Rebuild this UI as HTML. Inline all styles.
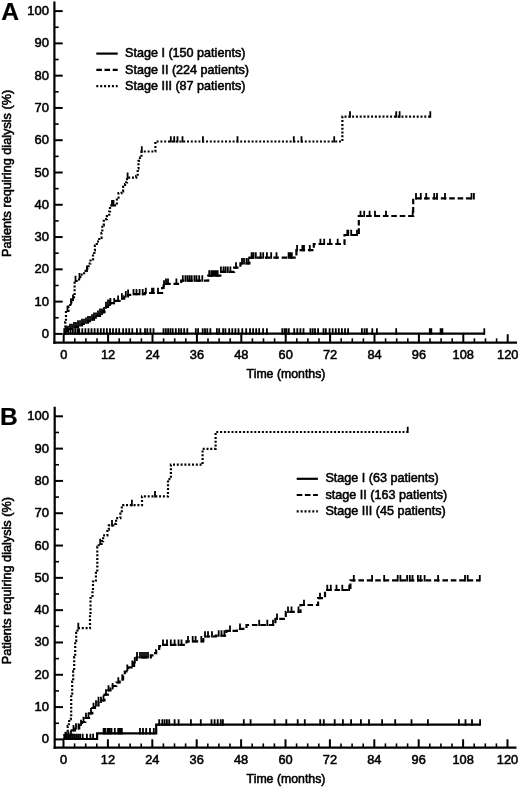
<!DOCTYPE html>
<html><head><meta charset="utf-8"><title>Patients requiring dialysis</title>
<style>
html,body{margin:0;padding:0;background:#fff;width:520px;height:788px;overflow:hidden;}
svg{display:block;}
text{font-family:"Liberation Sans",Arial,Helvetica,sans-serif;font-weight:normal;fill:#000;stroke:#000;stroke-width:0.55px;}
.b{font-weight:bold;stroke-width:0.2px;}
</style></head><body>
<svg width="520" height="788" viewBox="0 0 520 788">
<rect width="520" height="788" fill="#fff"/>
<g stroke="#000" stroke-linecap="butt">
<line x1="54.4" y1="1.5" x2="54.4" y2="343.75" stroke-width="2.2"/>
<line x1="53.3" y1="342.6" x2="517" y2="342.6" stroke-width="2.3"/>
<line x1="54.4" y1="333.9" x2="62.7" y2="333.9" stroke-width="2"/>
<line x1="54.4" y1="317.76" x2="58.7" y2="317.76" stroke-width="1.6"/>
<line x1="54.4" y1="301.62" x2="62.7" y2="301.62" stroke-width="2"/>
<line x1="54.4" y1="285.48" x2="58.7" y2="285.48" stroke-width="1.6"/>
<line x1="54.4" y1="269.34" x2="62.7" y2="269.34" stroke-width="2"/>
<line x1="54.4" y1="253.2" x2="58.7" y2="253.2" stroke-width="1.6"/>
<line x1="54.4" y1="237.06" x2="62.7" y2="237.06" stroke-width="2"/>
<line x1="54.4" y1="220.92" x2="58.7" y2="220.92" stroke-width="1.6"/>
<line x1="54.4" y1="204.78" x2="62.7" y2="204.78" stroke-width="2"/>
<line x1="54.4" y1="188.64" x2="58.7" y2="188.64" stroke-width="1.6"/>
<line x1="54.4" y1="172.5" x2="62.7" y2="172.5" stroke-width="2"/>
<line x1="54.4" y1="156.36" x2="58.7" y2="156.36" stroke-width="1.6"/>
<line x1="54.4" y1="140.22" x2="62.7" y2="140.22" stroke-width="2"/>
<line x1="54.4" y1="124.08" x2="58.7" y2="124.08" stroke-width="1.6"/>
<line x1="54.4" y1="107.94" x2="62.7" y2="107.94" stroke-width="2"/>
<line x1="54.4" y1="91.8" x2="58.7" y2="91.8" stroke-width="1.6"/>
<line x1="54.4" y1="75.66" x2="62.7" y2="75.66" stroke-width="2"/>
<line x1="54.4" y1="59.52" x2="58.7" y2="59.52" stroke-width="1.6"/>
<line x1="54.4" y1="43.38" x2="62.7" y2="43.38" stroke-width="2"/>
<line x1="54.4" y1="27.24" x2="58.7" y2="27.24" stroke-width="1.6"/>
<line x1="54.4" y1="11.1" x2="62.7" y2="11.1" stroke-width="2"/>
<line x1="63.7" y1="342.6" x2="63.7" y2="334.2" stroke-width="2"/>
<line x1="74.8" y1="342.6" x2="74.8" y2="338.3" stroke-width="1.6"/>
<line x1="85.9" y1="342.6" x2="85.9" y2="338.3" stroke-width="1.6"/>
<line x1="97" y1="342.6" x2="97" y2="338.3" stroke-width="1.6"/>
<line x1="108.1" y1="342.6" x2="108.1" y2="334.2" stroke-width="2"/>
<line x1="119.2" y1="342.6" x2="119.2" y2="338.3" stroke-width="1.6"/>
<line x1="130.3" y1="342.6" x2="130.3" y2="338.3" stroke-width="1.6"/>
<line x1="141.4" y1="342.6" x2="141.4" y2="338.3" stroke-width="1.6"/>
<line x1="152.5" y1="342.6" x2="152.5" y2="334.2" stroke-width="2"/>
<line x1="163.6" y1="342.6" x2="163.6" y2="338.3" stroke-width="1.6"/>
<line x1="174.7" y1="342.6" x2="174.7" y2="338.3" stroke-width="1.6"/>
<line x1="185.8" y1="342.6" x2="185.8" y2="338.3" stroke-width="1.6"/>
<line x1="196.9" y1="342.6" x2="196.9" y2="334.2" stroke-width="2"/>
<line x1="208" y1="342.6" x2="208" y2="338.3" stroke-width="1.6"/>
<line x1="219.1" y1="342.6" x2="219.1" y2="338.3" stroke-width="1.6"/>
<line x1="230.2" y1="342.6" x2="230.2" y2="338.3" stroke-width="1.6"/>
<line x1="241.3" y1="342.6" x2="241.3" y2="334.2" stroke-width="2"/>
<line x1="252.4" y1="342.6" x2="252.4" y2="338.3" stroke-width="1.6"/>
<line x1="263.5" y1="342.6" x2="263.5" y2="338.3" stroke-width="1.6"/>
<line x1="274.6" y1="342.6" x2="274.6" y2="338.3" stroke-width="1.6"/>
<line x1="285.7" y1="342.6" x2="285.7" y2="334.2" stroke-width="2"/>
<line x1="296.8" y1="342.6" x2="296.8" y2="338.3" stroke-width="1.6"/>
<line x1="307.9" y1="342.6" x2="307.9" y2="338.3" stroke-width="1.6"/>
<line x1="319" y1="342.6" x2="319" y2="338.3" stroke-width="1.6"/>
<line x1="330.1" y1="342.6" x2="330.1" y2="334.2" stroke-width="2"/>
<line x1="341.2" y1="342.6" x2="341.2" y2="338.3" stroke-width="1.6"/>
<line x1="352.3" y1="342.6" x2="352.3" y2="338.3" stroke-width="1.6"/>
<line x1="363.4" y1="342.6" x2="363.4" y2="338.3" stroke-width="1.6"/>
<line x1="374.5" y1="342.6" x2="374.5" y2="334.2" stroke-width="2"/>
<line x1="385.6" y1="342.6" x2="385.6" y2="338.3" stroke-width="1.6"/>
<line x1="396.7" y1="342.6" x2="396.7" y2="338.3" stroke-width="1.6"/>
<line x1="407.8" y1="342.6" x2="407.8" y2="338.3" stroke-width="1.6"/>
<line x1="418.9" y1="342.6" x2="418.9" y2="334.2" stroke-width="2"/>
<line x1="430" y1="342.6" x2="430" y2="338.3" stroke-width="1.6"/>
<line x1="441.1" y1="342.6" x2="441.1" y2="338.3" stroke-width="1.6"/>
<line x1="452.2" y1="342.6" x2="452.2" y2="338.3" stroke-width="1.6"/>
<line x1="463.3" y1="342.6" x2="463.3" y2="334.2" stroke-width="2"/>
<line x1="474.4" y1="342.6" x2="474.4" y2="338.3" stroke-width="1.6"/>
<line x1="485.5" y1="342.6" x2="485.5" y2="338.3" stroke-width="1.6"/>
<line x1="496.6" y1="342.6" x2="496.6" y2="338.3" stroke-width="1.6"/>
<line x1="507.7" y1="342.6" x2="507.7" y2="334.2" stroke-width="2"/>
</g>
<text x="48.9" y="337.9" font-size="13" text-anchor="end">0</text>
<text x="48.9" y="305.62" font-size="13" text-anchor="end">10</text>
<text x="48.9" y="273.34" font-size="13" text-anchor="end">20</text>
<text x="48.9" y="241.06" font-size="13" text-anchor="end">30</text>
<text x="48.9" y="208.78" font-size="13" text-anchor="end">40</text>
<text x="48.9" y="176.5" font-size="13" text-anchor="end">50</text>
<text x="48.9" y="144.22" font-size="13" text-anchor="end">60</text>
<text x="48.9" y="111.94" font-size="13" text-anchor="end">70</text>
<text x="48.9" y="79.66" font-size="13" text-anchor="end">80</text>
<text x="48.9" y="47.38" font-size="13" text-anchor="end">90</text>
<text x="48.9" y="15.1" font-size="13" text-anchor="end">100</text>
<text x="63.7" y="358.6" font-size="12.8" text-anchor="middle">0</text>
<text x="108.1" y="358.6" font-size="12.8" text-anchor="middle">12</text>
<text x="152.5" y="358.6" font-size="12.8" text-anchor="middle">24</text>
<text x="196.9" y="358.6" font-size="12.8" text-anchor="middle">36</text>
<text x="241.3" y="358.6" font-size="12.8" text-anchor="middle">48</text>
<text x="285.7" y="358.6" font-size="12.8" text-anchor="middle">60</text>
<text x="330.1" y="358.6" font-size="12.8" text-anchor="middle">72</text>
<text x="374.5" y="358.6" font-size="12.8" text-anchor="middle">84</text>
<text x="418.9" y="358.6" font-size="12.8" text-anchor="middle">96</text>
<text x="463.3" y="358.6" font-size="12.8" text-anchor="middle">108</text>
<text x="507.7" y="358.6" font-size="12.8" text-anchor="middle">120</text>
<text x="286" y="377.9" font-size="12.3" text-anchor="middle">Time (months)</text>
<text transform="translate(11.2,173.4) rotate(-90)" x="0" y="0" font-size="12.7" text-anchor="middle">Patients requiring dialysis (%)</text>
<text x="1.2" y="19.6" font-size="24.6" class="b">A</text>
<path d="M63.7 333.6H484.3" fill="none" stroke="#000" stroke-width="2.2"/>
<path d="M66 334.7V328.3M68.3 334.7V328.3M70.6 334.7V328.3M72.9 334.7V328.3M75.2 334.7V328.3M77.5 334.7V328.3M79.2 334.7V328.3M82.3 334.7V328.3M85.4 334.7V328.3M88.5 334.7V328.3M91.5 334.7V328.3M94.6 334.7V328.3M97.7 334.7V328.3M100.8 334.7V328.3M103.8 334.7V328.3M106.9 334.7V328.3M110 334.7V328.3M113 334.7V328.3M116.2 334.7V328.3M119.2 334.7V328.3M123.1 334.7V328.3M126.2 334.7V328.3M129.2 334.7V328.3M132.3 334.7V328.3M136.9 334.7V328.3M140.4 334.7V328.3M145 334.7V328.3M147.3 334.7V328.3M150.4 334.7V328.3M153.5 334.7V328.3M163.5 334.7V328.3M165.8 334.7V328.3M168.1 334.7V328.3M170.4 334.7V328.3M172.7 334.7V328.3M175.8 334.7V328.3M178.8 334.7V328.3M181.2 334.7V328.3M184.2 334.7V328.3M187.3 334.7V328.3M195.8 334.7V328.3M198.1 334.7V328.3M202.7 334.7V328.3M205 334.7V328.3M207.3 334.7V328.3M210.4 334.7V328.3M216.9 334.7V328.3M219.2 334.7V328.3M223.1 334.7V328.3M225.4 334.7V328.3M229.2 334.7V328.3M232.3 334.7V328.3M235.4 334.7V328.3M238.5 334.7V328.3M242.3 334.7V328.3M246.2 334.7V328.3M250 334.7V328.3M253.1 334.7V328.3M256.2 334.7V328.3M259.2 334.7V328.3M263.1 334.7V328.3M266.9 334.7V328.3M282.3 334.7V328.3M284.6 334.7V328.3M286.5 334.7V328.3M288.8 334.7V328.3M294.2 334.7V328.3M297.3 334.7V328.3M300.4 334.7V328.3M303.5 334.7V328.3M310.4 334.7V328.3M312.7 334.7V328.3M315 334.7V328.3M318.1 334.7V328.3M323.5 334.7V328.3M325.8 334.7V328.3M329.6 334.7V328.3M332.7 334.7V328.3M335.8 334.7V328.3M338.8 334.7V328.3M341.9 334.7V328.3M345 334.7V328.3M348.1 334.7V328.3M361.9 334.7V328.3M364.6 334.7V328.3M366.9 334.7V328.3M372.3 334.7V328.3M376.9 334.7V328.3M396.2 334.7V328.3M429.8 334.7V328.3M431.3 334.7V328.3M440.6 334.7V328.3M442.4 334.7V328.3M484.3 334.7V328.3" fill="none" stroke="#000" stroke-width="1.8"/>
<path d="M63.7 333.6H64.5V331H68.7V329H73.5V327.2H78V325.5H82V324H85V322.7H88V321.2H91V319.6H94V317.7H97V315.8H100V313.8H102.5V312.2H104.5V310.5H106V307H108V304.8H110.4V303.2H115V300.9H119.6V298.6H124.2V296.3H128V294.8H132V294.2H144.8V293H162.1V288H163.6V285.5H164.8V283.8H181.2V280.6H208.2V275.6H220.3V271.9H234.1V267.6H240.4V263.4H249.4V257.6H296.4V250.2H313.8V244H344.5V235H358.8V216H413.2V198.3H473.9" fill="none" stroke="#000" stroke-width="2.2" stroke-dasharray="5.6 2.8"/>
<path d="M66 332.1V325.7M68 332.1V325.7M70 330.1V323.7M72 330.1V323.7M74 328.3V321.9M76 328.3V321.9M78 326.6V320.2M80 326.6V320.2M82 325.1V318.7M84 325.1V318.7M86 323.8V317.4M88 322.3V315.9M90 322.3V315.9M92 320.7V314.3M94 318.8V312.4M96 318.8V312.4M98 316.9V310.5M100 314.9V308.5M102 314.9V308.5M104 313.3V306.9M106 308.1V301.7M108 305.9V299.5M110 305.9V299.5M110.4 304.3V297.9M114.2 304.3V297.9M118.1 302V295.6M121.9 299.7V293.3M125.8 297.4V291M128.1 295.9V289.5M133.5 295.3V288.9M136.5 295.3V288.9M139.6 295.3V288.9M142.7 295.3V288.9M145.8 294.1V287.7M152 294.1V287.7M153.5 294.1V287.7M158 294.1V287.7M164 286.6V280.2M166 284.9V278.5M168 284.9V278.5M176.4 284.9V278.5M182.8 281.7V275.3M185.4 281.7V275.3M187.5 281.7V275.3M189.6 281.7V275.3M191.7 281.7V275.3M194.4 281.7V275.3M196.5 281.7V275.3M199.2 281.7V275.3M202.3 281.7V275.3M209.2 276.7V270.3M211.3 276.7V270.3M212.9 276.7V270.3M214.5 276.7V270.3M216.1 276.7V270.3M217.7 276.7V270.3M220.9 273V266.6M223.5 273V266.6M225.6 273V266.6M227.8 273V266.6M230.4 273V266.6M236 268.7V262.3M242 264.5V258.1M244 264.5V258.1M246.5 264.5V258.1M248.5 264.5V258.1M253.5 258.7V252.3M251.6 258.7V252.3M255.8 258.7V252.3M260.6 258.7V252.3M263.2 258.7V252.3M266.9 258.7V252.3M271.2 258.7V252.3M276.5 258.7V252.3M288.6 258.7V252.3M290.2 258.7V252.3M291.8 258.7V252.3M297.1 251.3V244.9M302.4 251.3V244.9M304 251.3V244.9M309.8 251.3V244.9M320.4 245.1V238.7M324.2 245.1V238.7M330 245.1V238.7M337.7 245.1V238.7M347.3 236.1V229.7M348.3 236.1V229.7M351.2 236.1V229.7M357 236.1V229.7M360.5 217.1V210.7M364.2 217.1V210.7M369.6 217.1V210.7M375 217.1V210.7M386 217.1V210.7M412.7 217.1V210.7M416 199.4V193M420.8 199.4V193M426.2 199.4V193M434.2 199.4V193M437 199.4V193M445 199.4V193M471.5 199.4V193M473.9 199.4V193" fill="none" stroke="#000" stroke-width="1.8"/>
<path d="M63.7 333.6H64.5V329H65.3V322H66V311H68.5V306.5H70.2V303.6H71.4V299.8H74V296H74.6V281H79V278.2H80.3V274.6H84.1V270.8H87.3V268H88.6V263.5H90.5V259.5H93V255.5H94.3V250.5H94.9V245.5H96.8V241.5H99.3V237.8H101.5V233.1H102.3V225.4H103.8V219.2H106.9V216.2H109.2V211.5H110V205.4H116.9V197.7H118.5V193.1H121.5V191.5H123.1V186.9H125V184H126.2V182.3H127V177.7H136.2V176.2H137.7V168.5H138.5V160.8H140V157.7H141.5V151.5H155.4V141.5H342.4V116.6H430.3" fill="none" stroke="#000" stroke-width="2.2" stroke-dasharray="2 1.8"/>
<path d="M67.5 312.1V305.7M71 304.7V298.3M73 300.9V294.5M75.5 282.1V275.7M79.5 279.3V272.9M87 271.9V265.5M112 206.5V200.1M113.5 206.5V200.1M127.6 178.8V172.4M141.8 152.6V146.2M170.8 142.6V136.2M174.2 142.6V136.2M177.5 142.6V136.2M182.5 142.6V136.2M202.9 142.6V136.2M237.5 142.6V136.2M293.8 142.6V136.2M301.5 142.6V136.2M334.2 142.6V136.2M350 117.7V111.3M396.2 117.7V111.3M399.6 117.7V111.3M430.3 117.7V111.3" fill="none" stroke="#000" stroke-width="1.8"/>
<line x1="96.3" y1="53.6" x2="117.7" y2="53.6" stroke="#000" stroke-width="2.2"/>
<text x="125" y="57.2" font-size="12.6">Stage I (150 patients)</text>
<line x1="96.3" y1="69.9" x2="117.7" y2="69.9" stroke="#000" stroke-width="2.2" stroke-dasharray="5.6 2.6"/>
<text x="125" y="73.5" font-size="12.6">Stage II (224 patients)</text>
<line x1="96.3" y1="86.2" x2="117.7" y2="86.2" stroke="#000" stroke-width="2.2" stroke-dasharray="2 1.9"/>
<text x="125" y="89.8" font-size="12.6">Stage III (87 patients)</text>
<g stroke="#000" stroke-linecap="butt">
<line x1="54.7" y1="406.8" x2="54.7" y2="748.85" stroke-width="2.2"/>
<line x1="53.6" y1="747.7" x2="516.5" y2="747.7" stroke-width="2.3"/>
<line x1="54.7" y1="739.4" x2="63" y2="739.4" stroke-width="2"/>
<line x1="54.7" y1="723.25" x2="59" y2="723.25" stroke-width="1.6"/>
<line x1="54.7" y1="707.09" x2="63" y2="707.09" stroke-width="2"/>
<line x1="54.7" y1="690.93" x2="59" y2="690.93" stroke-width="1.6"/>
<line x1="54.7" y1="674.78" x2="63" y2="674.78" stroke-width="2"/>
<line x1="54.7" y1="658.62" x2="59" y2="658.62" stroke-width="1.6"/>
<line x1="54.7" y1="642.47" x2="63" y2="642.47" stroke-width="2"/>
<line x1="54.7" y1="626.31" x2="59" y2="626.31" stroke-width="1.6"/>
<line x1="54.7" y1="610.16" x2="63" y2="610.16" stroke-width="2"/>
<line x1="54.7" y1="594" x2="59" y2="594" stroke-width="1.6"/>
<line x1="54.7" y1="577.85" x2="63" y2="577.85" stroke-width="2"/>
<line x1="54.7" y1="561.69" x2="59" y2="561.69" stroke-width="1.6"/>
<line x1="54.7" y1="545.54" x2="63" y2="545.54" stroke-width="2"/>
<line x1="54.7" y1="529.38" x2="59" y2="529.38" stroke-width="1.6"/>
<line x1="54.7" y1="513.23" x2="63" y2="513.23" stroke-width="2"/>
<line x1="54.7" y1="497.07" x2="59" y2="497.07" stroke-width="1.6"/>
<line x1="54.7" y1="480.92" x2="63" y2="480.92" stroke-width="2"/>
<line x1="54.7" y1="464.76" x2="59" y2="464.76" stroke-width="1.6"/>
<line x1="54.7" y1="448.61" x2="63" y2="448.61" stroke-width="2"/>
<line x1="54.7" y1="432.45" x2="59" y2="432.45" stroke-width="1.6"/>
<line x1="54.7" y1="416.3" x2="63" y2="416.3" stroke-width="2"/>
<line x1="63.5" y1="747.7" x2="63.5" y2="739.3" stroke-width="2"/>
<line x1="74.6" y1="747.7" x2="74.6" y2="743.4" stroke-width="1.6"/>
<line x1="85.7" y1="747.7" x2="85.7" y2="743.4" stroke-width="1.6"/>
<line x1="96.8" y1="747.7" x2="96.8" y2="743.4" stroke-width="1.6"/>
<line x1="107.9" y1="747.7" x2="107.9" y2="739.3" stroke-width="2"/>
<line x1="119" y1="747.7" x2="119" y2="743.4" stroke-width="1.6"/>
<line x1="130.1" y1="747.7" x2="130.1" y2="743.4" stroke-width="1.6"/>
<line x1="141.2" y1="747.7" x2="141.2" y2="743.4" stroke-width="1.6"/>
<line x1="152.3" y1="747.7" x2="152.3" y2="739.3" stroke-width="2"/>
<line x1="163.4" y1="747.7" x2="163.4" y2="743.4" stroke-width="1.6"/>
<line x1="174.5" y1="747.7" x2="174.5" y2="743.4" stroke-width="1.6"/>
<line x1="185.6" y1="747.7" x2="185.6" y2="743.4" stroke-width="1.6"/>
<line x1="196.7" y1="747.7" x2="196.7" y2="739.3" stroke-width="2"/>
<line x1="207.8" y1="747.7" x2="207.8" y2="743.4" stroke-width="1.6"/>
<line x1="218.9" y1="747.7" x2="218.9" y2="743.4" stroke-width="1.6"/>
<line x1="230" y1="747.7" x2="230" y2="743.4" stroke-width="1.6"/>
<line x1="241.1" y1="747.7" x2="241.1" y2="739.3" stroke-width="2"/>
<line x1="252.2" y1="747.7" x2="252.2" y2="743.4" stroke-width="1.6"/>
<line x1="263.3" y1="747.7" x2="263.3" y2="743.4" stroke-width="1.6"/>
<line x1="274.4" y1="747.7" x2="274.4" y2="743.4" stroke-width="1.6"/>
<line x1="285.5" y1="747.7" x2="285.5" y2="739.3" stroke-width="2"/>
<line x1="296.6" y1="747.7" x2="296.6" y2="743.4" stroke-width="1.6"/>
<line x1="307.7" y1="747.7" x2="307.7" y2="743.4" stroke-width="1.6"/>
<line x1="318.8" y1="747.7" x2="318.8" y2="743.4" stroke-width="1.6"/>
<line x1="329.9" y1="747.7" x2="329.9" y2="739.3" stroke-width="2"/>
<line x1="341" y1="747.7" x2="341" y2="743.4" stroke-width="1.6"/>
<line x1="352.1" y1="747.7" x2="352.1" y2="743.4" stroke-width="1.6"/>
<line x1="363.2" y1="747.7" x2="363.2" y2="743.4" stroke-width="1.6"/>
<line x1="374.3" y1="747.7" x2="374.3" y2="739.3" stroke-width="2"/>
<line x1="385.4" y1="747.7" x2="385.4" y2="743.4" stroke-width="1.6"/>
<line x1="396.5" y1="747.7" x2="396.5" y2="743.4" stroke-width="1.6"/>
<line x1="407.6" y1="747.7" x2="407.6" y2="743.4" stroke-width="1.6"/>
<line x1="418.7" y1="747.7" x2="418.7" y2="739.3" stroke-width="2"/>
<line x1="429.8" y1="747.7" x2="429.8" y2="743.4" stroke-width="1.6"/>
<line x1="440.9" y1="747.7" x2="440.9" y2="743.4" stroke-width="1.6"/>
<line x1="452" y1="747.7" x2="452" y2="743.4" stroke-width="1.6"/>
<line x1="463.1" y1="747.7" x2="463.1" y2="739.3" stroke-width="2"/>
<line x1="474.2" y1="747.7" x2="474.2" y2="743.4" stroke-width="1.6"/>
<line x1="485.3" y1="747.7" x2="485.3" y2="743.4" stroke-width="1.6"/>
<line x1="496.4" y1="747.7" x2="496.4" y2="743.4" stroke-width="1.6"/>
<line x1="507.5" y1="747.7" x2="507.5" y2="739.3" stroke-width="2"/>
</g>
<text x="48.9" y="743.4" font-size="13" text-anchor="end">0</text>
<text x="48.9" y="711.09" font-size="13" text-anchor="end">10</text>
<text x="48.9" y="678.78" font-size="13" text-anchor="end">20</text>
<text x="48.9" y="646.47" font-size="13" text-anchor="end">30</text>
<text x="48.9" y="614.16" font-size="13" text-anchor="end">40</text>
<text x="48.9" y="581.85" font-size="13" text-anchor="end">50</text>
<text x="48.9" y="549.54" font-size="13" text-anchor="end">60</text>
<text x="48.9" y="517.23" font-size="13" text-anchor="end">70</text>
<text x="48.9" y="484.92" font-size="13" text-anchor="end">80</text>
<text x="48.9" y="452.61" font-size="13" text-anchor="end">90</text>
<text x="48.9" y="420.3" font-size="13" text-anchor="end">100</text>
<text x="63.5" y="764.2" font-size="12.8" text-anchor="middle">0</text>
<text x="107.9" y="764.2" font-size="12.8" text-anchor="middle">12</text>
<text x="152.3" y="764.2" font-size="12.8" text-anchor="middle">24</text>
<text x="196.7" y="764.2" font-size="12.8" text-anchor="middle">36</text>
<text x="241.1" y="764.2" font-size="12.8" text-anchor="middle">48</text>
<text x="285.5" y="764.2" font-size="12.8" text-anchor="middle">60</text>
<text x="329.9" y="764.2" font-size="12.8" text-anchor="middle">72</text>
<text x="374.3" y="764.2" font-size="12.8" text-anchor="middle">84</text>
<text x="418.7" y="764.2" font-size="12.8" text-anchor="middle">96</text>
<text x="463.1" y="764.2" font-size="12.8" text-anchor="middle">108</text>
<text x="507.5" y="764.2" font-size="12.8" text-anchor="middle">120</text>
<text x="286" y="783.4" font-size="12.3" text-anchor="middle">Time (months)</text>
<text transform="translate(11.2,580.6) rotate(-90)" x="0" y="0" font-size="12.7" text-anchor="middle">Patients requiring dialysis (%)</text>
<text x="-0.1" y="424.6" font-size="24.6" class="b">B</text>
<path d="M63.5 739H97.1V733.4H156.2V724.6H480.1" fill="none" stroke="#000" stroke-width="2.2"/>
<path d="M65 740.1V733.7M66.9 740.1V733.7M68.8 740.1V733.7M70.7 740.1V733.7M72.6 740.1V733.7M74.5 740.1V733.7M76.4 740.1V733.7M78.3 740.1V733.7M80.2 740.1V733.7M82.7 740.1V733.7M86.9 740.1V733.7M90.4 740.1V733.7M93.1 740.1V733.7M103.6 734.5V728.1M105.4 734.5V728.1M107.8 734.5V728.1M109.6 734.5V728.1M111.5 734.5V728.1M114.8 734.5V728.1M118.2 734.5V728.1M120 734.5V728.1M121.8 734.5V728.1M140 734.5V728.1M143 734.5V728.1M146.2 734.5V728.1M150 734.5V728.1M153.8 734.5V728.1M159.2 725.7V719.3M162.3 725.7V719.3M164.6 725.7V719.3M166.9 725.7V719.3M169.2 725.7V719.3M174.6 725.7V719.3M178.6 725.7V719.3M190.9 725.7V719.3M200.8 725.7V719.3M211.5 725.7V719.3M214.6 725.7V719.3M217.7 725.7V719.3M220.8 725.7V719.3M222.9 725.7V719.3M243.8 725.7V719.3M250.6 725.7V719.3M274.6 725.7V719.3M286.3 725.7V719.3M297.7 725.7V719.3M304.8 725.7V719.3M320.2 725.7V719.3M323.8 725.7V719.3M334.7 725.7V719.3M342.9 725.7V719.3M351.1 725.7V719.3M360.9 725.7V719.3M369 725.7V719.3M382.1 725.7V719.3M395.2 725.7V719.3M411.5 725.7V719.3M427.9 725.7V719.3M458.9 725.7V719.3M465.5 725.7V719.3M472 725.7V719.3M480.1 725.7V719.3" fill="none" stroke="#000" stroke-width="1.8"/>
<path d="M63.5 739H64.5V737H70V735H72.3V730.3H75V728.5H79.2V725H82V722H85.4V718H89V713.3H92.3V708H95V705.5H98.5V702H101.1V700.5H104.5V694.6H107.9V690.5H110.5V688.3H112.9V686H116.3V682.5H119.7V679.5H123.1V675.3H124.8V671.5H126.5V669.8H128.2V667.3H131.6V665.8H134.1V662.4H136.7V657.3H150.8V655.4H153.8V653.1H156.2V650H159.2V646.2H161.5V644.8H186.5V641.3H203.3V636.5H215.8V635.6H226.3V630.8H236.9V628.8H246.5V625H275.4V618.8H285.8V611.9H300.5V605H318.1V598.1H325V590H350.4V580.3H479.8" fill="none" stroke="#000" stroke-width="2.2" stroke-dasharray="5.6 2.8"/>
<path d="M66 738.1V731.7M68.5 738.1V731.7M71 736.1V729.7M73.5 731.4V725M76 729.6V723.2M78.5 729.6V723.2M81 726.1V719.7M83.5 723.1V716.7M86 719.1V712.7M88.5 719.1V712.7M91 714.4V708M93.5 709.1V702.7M96 706.6V700.2M98.5 703.1V696.7M101 703.1V696.7M103.5 701.6V695.2M106 695.7V689.3M108.5 691.6V685.2M112.6 689.4V683M118.3 683.6V677.2M122.3 680.6V674.2M127.3 670.9V664.5M132.3 666.9V660.5M134.8 663.5V657.1M137 658.4V652M140 658.4V652M142 658.4V652M144 658.4V652M146 658.4V652M148 658.4V652M163 645.9V639.5M167 645.9V639.5M170.8 645.9V639.5M174.6 645.9V639.5M178.5 645.9V639.5M181.5 645.9V639.5M188 642.4V636M192.7 642.4V636M195.6 642.4V636M201.3 642.4V636M205 637.6V631.2M208 637.6V631.2M212 637.6V631.2M218.7 636.7V630.3M221.5 636.7V630.3M224.4 636.7V630.3M230 631.9V625.5M240 629.9V623.5M259.2 626.1V619.7M267.3 626.1V619.7M273 626.1V619.7M277 619.9V613.5M288 613V606.6M291.5 613V606.6M298.5 613V606.6M304 606.1V599.7M320 599.2V592.8M327.3 591.1V584.7M330.8 591.1V584.7M336.5 591.1V584.7M342.3 591.1V584.7M349.2 591.1V584.7M353.8 581.4V575M372.1 581.4V575M384.2 581.4V575M397.7 581.4V575M400.4 581.4V575M407.1 581.4V575M409.8 581.4V575M412.5 581.4V575M417.9 581.4V575M420.6 581.4V575M424.6 581.4V575M438.1 581.4V575M465 581.4V575M467.7 581.4V575M479.8 581.4V575" fill="none" stroke="#000" stroke-width="1.8"/>
<path d="M63.5 739H64.3V735H65.5V733H66.5V730.8H67.7V726.2H68.8V723.1H69.2V719.2H70.8V717.7H71.2V693.7H72.2V681.5H73.2V671.4H74.2V657.2H75.2V640.9H76.2V632.8H77.5V628.1H90V614.5H90.5V598H92.5V590.2H93V581.5H95.9V572.9H97.3V546.9H98.7V544H101.6V541.1H103.1V535.4H107.4V529.6H108.8V525.3H113.2V523.8H116.1V518.1H120.4V513.7H121.8V506.5H123.3V505.1H142V496.4H168V479.1H170.9V464.7H202.6V448.8H215.6V432H407.7" fill="none" stroke="#000" stroke-width="2.2" stroke-dasharray="2 1.8"/>
<path d="M78.3 629.2V622.8M100.2 545.1V538.7M112 526.4V520M131.9 506.2V499.8M155 497.5V491.1M407.7 433.1V426.7" fill="none" stroke="#000" stroke-width="1.8"/>
<line x1="296.7" y1="478.8" x2="317.9" y2="478.8" stroke="#000" stroke-width="2.2"/>
<text x="325.4" y="482.4" font-size="12.6">Stage I (63 patients)</text>
<line x1="296.7" y1="495" x2="317.9" y2="495" stroke="#000" stroke-width="2.2" stroke-dasharray="5.6 2.6"/>
<text x="325.4" y="498.6" font-size="12.6">stage II (163 patients)</text>
<line x1="296.7" y1="511.3" x2="317.9" y2="511.3" stroke="#000" stroke-width="2.2" stroke-dasharray="2 1.9"/>
<text x="325.4" y="514.9" font-size="12.6">Stage III (45 patients)</text>
</svg>
</body></html>
